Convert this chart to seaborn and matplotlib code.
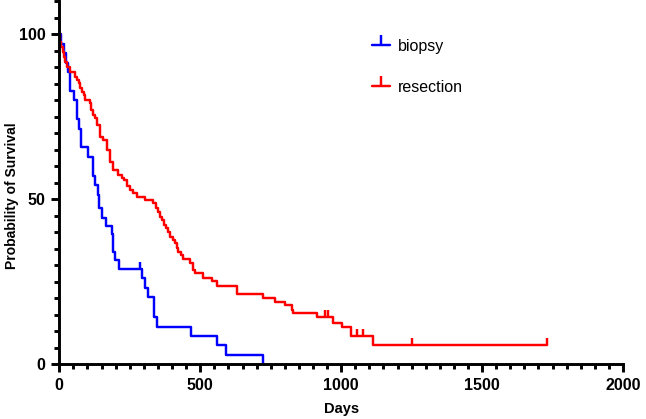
import numpy as np
import pandas as pd
import matplotlib
matplotlib.use("Agg")
import matplotlib.pyplot as plt
from matplotlib.lines import Line2D
from matplotlib.legend_handler import HandlerLine2D
from matplotlib.ticker import MultipleLocator
import seaborn as sns

# ---- data ----
biopsy_days = [0, 6, 17, 23, 30, 38, 52, 62, 69, 76, 103, 118, 127, 136, 141,
               153, 165, 186, 189, 198, 213, 292, 304, 316, 336, 346, 466, 561,
               592, 722]
biopsy_surv = [100, 97.1, 94.3, 91.4, 88.6, 82.9, 80.0, 74.3, 71.4, 65.7, 62.9,
               57.1, 54.3, 51.4, 47.3, 44.4, 42.0, 39.4, 34.1, 31.6, 28.9, 26.1,
               23.0, 20.3, 14.4, 11.4, 8.6, 5.7, 2.9, 0.0]
biopsy_cens_days = [286]
biopsy_cens_surv = [28.9]

resection_days = [0, 3, 7, 13, 17, 21, 28, 37, 55, 63, 69, 72, 81, 88, 91, 109,
                  111, 121, 127, 133, 144, 156, 168, 180, 192, 209, 221, 230,
                  239, 251, 263, 275, 304, 334, 343, 351, 357, 363, 372, 379,
                  387, 393, 402, 411, 417, 422, 431, 438, 464, 473, 481, 511,
                  541, 561, 632, 724, 767, 801, 824, 830, 913, 970, 1002, 1035,
                  1114, 1732]
resection_surv = [100, 97.8, 96.2, 94.7, 93.2, 91.7, 90.2, 88.7, 87.2, 86.2,
                  85.2, 83.6, 82.6, 81.6, 80.1, 79.1, 77.1, 75.5, 74.5, 72.5,
                  69.0, 68.0, 64.9, 61.4, 58.9, 57.4, 56.4, 55.8, 54.0, 52.8,
                  51.8, 50.8, 49.8, 48.8, 47.3, 46.3, 44.7, 43.7, 42.2, 41.2,
                  40.2, 38.7, 37.7, 36.7, 35.2, 34.1, 33.1, 31.8, 30.6, 28.6,
                  27.6, 26.3, 25.3, 23.7, 21.4, 20.2, 19.0, 18.0, 16.5, 15.6,
                  14.4, 12.6, 11.4, 8.6, 5.7, 5.7]
resection_cens_days = [943, 955, 1057, 1079, 1250, 1732]
resection_cens_surv = [14.4, 14.4, 8.6, 8.6, 5.7, 5.7]

groups = ["biopsy", "resection"]
colors = {"biopsy": "#0000FF", "resection": "#FF0000"}
x_ticks = [0, 500, 1000, 1500, 2000]
y_ticks = [0, 50, 100]

df = pd.concat([
    pd.DataFrame({"Days": biopsy_days, "Survival": biopsy_surv, "group": "biopsy"}),
    pd.DataFrame({"Days": resection_days, "Survival": resection_surv, "group": "resection"}),
], ignore_index=True)

# ---- style ----
sns.set_style("ticks")
plt.rcParams["font.family"] = ["Liberation Sans", "DejaVu Sans"]
plt.rcParams["text.color"] = "black"
plt.rcParams["axes.labelcolor"] = "black"
plt.rcParams["xtick.color"] = "black"
plt.rcParams["ytick.color"] = "black"

fig = plt.figure(figsize=(6.46, 4.19), dpi=100)
ax = fig.add_axes([59.3 / 646, 1 - 364.3 / 419, (623 - 59.3) / 646, 363.0 / 419])

LW = 1.75
sns.lineplot(data=df, x="Days", y="Survival", hue="group", palette=colors,
             drawstyle="steps-post", estimator=None, sort=False, legend=False,
             linewidth=LW, ax=ax)

ax.plot(biopsy_cens_days, biopsy_cens_surv, linestyle="none", marker=2,
        markersize=5.2, markeredgewidth=LW, color=colors["biopsy"])
ax.plot(resection_cens_days, resection_cens_surv, linestyle="none", marker=2,
        markersize=5.2, markeredgewidth=LW, color=colors["resection"])

ax.set_xlim(0, 2000)
ax.set_ylim(0, 110)
ax.set_xticks(x_ticks)
ax.set_yticks(y_ticks)
ax.xaxis.set_minor_locator(MultipleLocator(50))
ax.yaxis.set_minor_locator(MultipleLocator(5))

for side in ["top", "right"]:
    ax.spines[side].set_visible(False)
for side in ["left", "bottom"]:
    ax.spines[side].set_linewidth(2.1)
    ax.spines[side].set_color("black")

ax.tick_params(which="major", length=6, width=2.1, pad=4, color="black",
               labelsize=11.5, labelcolor="black")
ax.tick_params(which="minor", length=3.5, width=2.1, color="black")
for lab in ax.get_xticklabels() + ax.get_yticklabels():
    lab.set_fontweight("bold")

ax.set_xlabel("Days", fontsize=10.5, fontweight="bold", color="black")
ax.set_ylabel("Probability of Survival", fontsize=10, fontweight="bold", color="black")
ax.xaxis.set_label_coords(0.5, -0.105)
ax.yaxis.set_label_coords(-0.072, 0.465)


class LeftTickHandler(HandlerLine2D):
    def get_xdata(self, legend, xdescent, ydescent, width, height, fontsize):
        xdata = np.array([-xdescent, -xdescent + width])
        xmark = np.array([-xdescent + 0.12 * width])
        return xdata, xmark


handles = [Line2D([], [], color=colors[g], lw=LW, marker=2, markersize=7,
                  markeredgewidth=LW) for g in groups]
fig.legend(handles, groups, loc="upper left", bbox_to_anchor=(372 / 646, 1 - 39 / 419),
           bbox_transform=fig.transFigure, frameon=False, fontsize=11.5,
           borderpad=0, borderaxespad=0, handlelength=1.15, handletextpad=0.5,
           labelspacing=1.6, numpoints=1,
           handler_map={Line2D: LeftTickHandler(numpoints=1)})

fig.savefig("out.png", dpi=100)
